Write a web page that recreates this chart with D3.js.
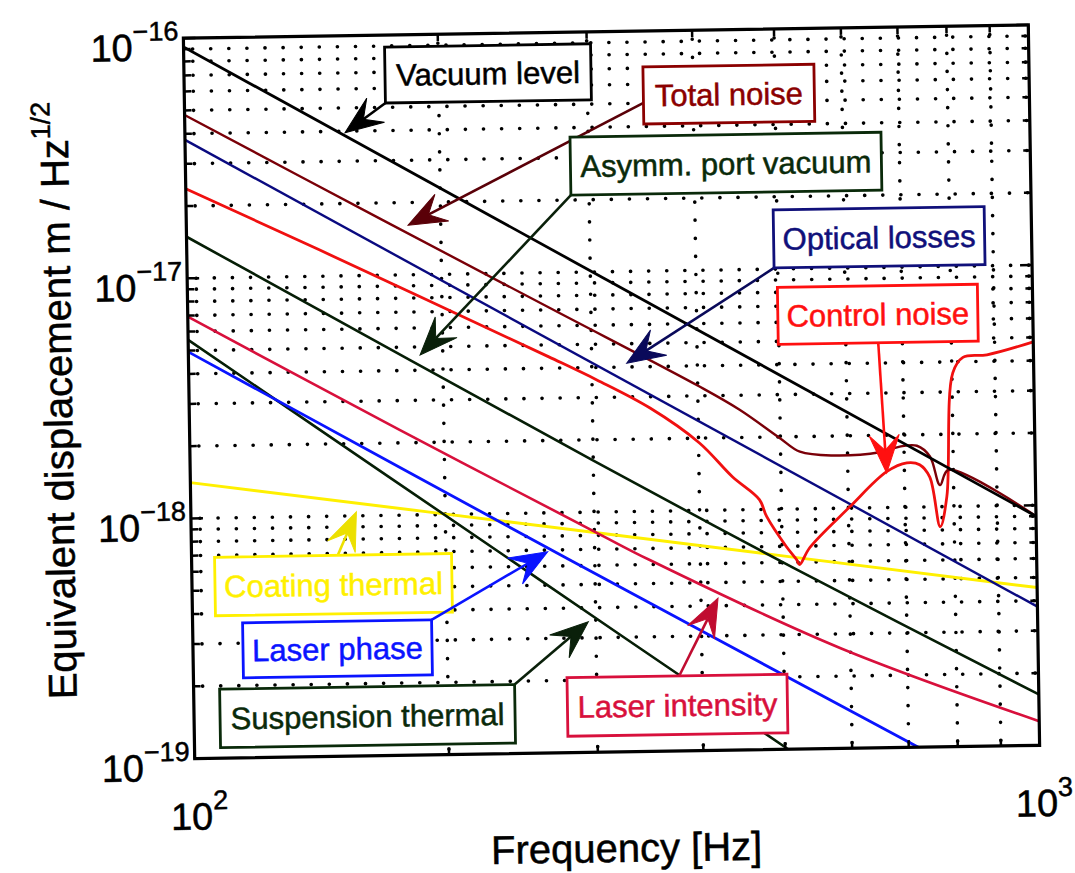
<!DOCTYPE html>
<html>
<head>
<meta charset="utf-8">
<script src="https://cdn.jsdelivr.net/npm/d3@7"></script>
<style>
  body { margin: 0; background: #fff; }
  svg { display: block; }
  text { font-family: "Liberation Sans", Arial, Helvetica, sans-serif; }
</style>
</head>
<body>
<svg id="chart" width="1075" height="873"></svg>
<script>
// Noise spectra: [frequency in Hz, amplitude in m/sqrt(Hz)]
const vacuumLevel = [[100, 9.2e-17], [1000, 9.0e-19]];
const totalNoise = [
  [100, 4.79e-17], [170.6, 1.70e-17], [268, 7.14e-18], [402, 3.28e-18],
  [448, 2.61e-18], [499, 1.98e-18], [527, 1.73e-18], [577, 1.66e-18],
  [655, 1.70e-18], [692, 1.79e-18], [725, 1.80e-18], [751, 1.62e-18],
  [771, 1.23e-18], [789, 1.42e-18], [1000, 9.0e-19]
];
const opticalLosses = [[100, 3.77e-17], [1000, 3.78e-19]];
const controlNoise = [
  [100, 2.36e-17], [143.5, 1.288e-17], [267, 4.46e-18], [304, 3.55e-18],
  [351, 2.69e-18], [401, 1.91e-18], [438, 1.375e-18], [471, 1.10e-18],
  [480, 9.35e-19], [506, 6.97e-19], [520, 6.14e-19], [524, 5.86e-19],
  [539, 6.88e-19], [602, 1.01e-18], [667, 1.41e-18], [705, 1.53e-18],
  [730, 1.50e-18], [750, 1.33e-18], [770, 8.25e-19], [785, 1.10e-18],
  [802, 3.60e-18], [825, 4.17e-18], [881, 4.26e-18], [1000, 4.79e-18]
];
const asymmPortVacuum = [[100, 1.49e-17], [299, 1.65e-18], [520, 5.59e-19], [1000, 1.63e-19]];
const laserIntensity = [
  [100, 6.92e-18], [177, 2.27e-18], [302, 8.20e-19], [348, 6.28e-19],
  [583, 2.62e-19], [1000, 1.26e-19]
];
const suspensionThermal = [[100, 5.54e-18], [258, 5.27e-19], [502, 1.01e-19], [520, 9.3e-20]];
const laserPhase = [[100, 4.94e-18], [280, 6.36e-19], [715, 1.01e-19], [730, 9.7e-20]];
const coatingThermal = [[100, 1.41e-18], [302, 8.2e-19], [1000, 4.54e-19]];

// Axis ticks
const xMajorTicks = [100, 1000];
const xTickExponents = ["2", "3"];
const yMajorTicks = [1e-19, 1e-18, 1e-17, 1e-16];
const yTickExponents = ["\u221219", "\u221218", "\u221217", "\u221216"];

// Annotation labels and the spectrum point each arrow points at
const labelTexts = ["Vacuum level", "Total noise", "Asymm. port vacuum", "Optical losses",
  "Control noise", "Coating thermal", "Laser phase", "Suspension thermal", "Laser intensity"];
const labelTips = [[154.7, 3.94e-17], [183, 1.61e-17], [188, 4.63e-18], [330, 4.15e-18],
  [667, 1.39e-18], [157, 1.04e-18], [264, 6.89e-19], [294, 3.50e-19], [419, 4.30e-19]];

// Drawing layout
const W = 1075, H = 873;
const plot = { left: 189, right: 1034, top: 31.5, bottom: 752 };
const tilt = -0.9;  // page tilt, degrees

const series = [
  { data: coatingThermal, color: "#fff000", width: 3 },
  { data: suspensionThermal, color: "#061e06", width: 2.6 },
  { data: laserPhase, color: "#0a14ff", width: 2.8 },
  { data: laserIntensity, color: "#d8103c", width: 2.6 },
  { data: asymmPortVacuum, color: "#061e06", width: 2.6 },
  { data: opticalLosses, color: "#0a0a80", width: 2.4 },
  { data: controlNoise, color: "#f01010", width: 2.8 },
  { data: totalNoise, color: "#7a0008", width: 2.4 },
  { data: vacuumLevel, color: "#000000", width: 2.8 }
];

const labelStyle = [
  { text: "#000000", arrow: "#000000", box: [390, 43.5, 206, 56], from: [0, 1] },
  { text: "#8b0000", arrow: "#5a0008", box: [648, 67.5, 171, 57], from: [0, 0.63] },
  { text: "#0a2a0a", arrow: "#0a200a", box: [574, 136.5, 311, 58], from: [0, 1] },
  { text: "#10107a", arrow: "#0a0a5a", box: [776, 212.5, 211, 58], from: [0, 1] },
  { text: "#ff1010", arrow: "#ff1010", box: [779, 290, 200, 57], from: [0.5, 1] },
  { text: "#fff000", arrow: "#ece000", box: [212, 551, 237, 58.5], from: [0.52, 0] },
  { text: "#0a14ff", arrow: "#0a14ff", box: [239, 617, 189, 55], from: [1, 0] },
  { text: "#0a2a0a", arrow: "#0a200a", box: [215, 683, 295, 58.5], from: [1, 0] },
  { text: "#d8103c", arrow: "#c00c30", box: [562.5, 677, 220, 58.5], from: [0.51, 0] }
];

const x = d3.scaleLog().domain([100, 1000]).range([plot.left, plot.right]);
const y = d3.scaleLog().domain([1e-19, 1e-16]).range([plot.bottom, plot.top]);

const svg = d3.select("#chart");
svg.append("rect").attr("width", W).attr("height", H).attr("fill", "#fff");

const page = svg.append("g")
  .attr("transform", `rotate(${tilt},612,392)`);

page.append("defs").append("clipPath").attr("id", "plotClip")
  .append("rect")
  .attr("x", plot.left).attr("y", plot.top)
  .attr("width", plot.right - plot.left).attr("height", plot.bottom - plot.top);

// Dotted log grid
const xGrid = d3.range(1, 11).map(k => k * 100);
const yGrid = [];
[-19, -18, -17].forEach(e => { for (let k = 1; k <= 9; k++) yGrid.push(k * Math.pow(10, e)); });
yGrid.push(1e-16);

const grid = page.append("g").attr("stroke", "#000").attr("stroke-width", 3.6)
  .attr("stroke-dasharray", "0.1,18").attr("stroke-linecap", "round");
grid.selectAll("line.gx").data(xGrid.slice(1, -1)).join("line")
  .attr("x1", d => x(d)).attr("x2", d => x(d))
  .attr("y1", plot.top + 9).attr("y2", plot.bottom);
grid.selectAll("line.gy").data(yGrid.slice(1, -1)).join("line")
  .attr("x1", plot.left + 9).attr("x2", plot.right)
  .attr("y1", d => y(d)).attr("y2", d => y(d));

// Spectra
const line = d3.line().x(d => x(d[0])).y(d => y(d[1])).curve(d3.curveCatmullRom.alpha(0.5));
const curves = page.append("g").attr("clip-path", "url(#plotClip)");
series.forEach(s => {
  curves.append("path").datum(s.data)
    .attr("d", line).attr("fill", "none")
    .attr("stroke", s.color).attr("stroke-width", s.width)
    .attr("stroke-linejoin", "round");
});

// Frame and inward ticks
const axes = page.append("g").attr("stroke", "#000").attr("fill", "none");
axes.append("rect")
  .attr("x", plot.left).attr("y", plot.top)
  .attr("width", plot.right - plot.left).attr("height", plot.bottom - plot.top)
  .attr("stroke-width", 3.2);

xGrid.forEach(v => {
  const len = xMajorTicks.includes(v) ? 12 : 7;
  axes.append("line").attr("x1", x(v)).attr("x2", x(v))
    .attr("y1", plot.bottom).attr("y2", plot.bottom - len).attr("stroke-width", 2.5);
  axes.append("line").attr("x1", x(v)).attr("x2", x(v))
    .attr("y1", plot.top).attr("y2", plot.top + len).attr("stroke-width", 2.5);
});
yGrid.forEach(v => {
  const len = yMajorTicks.some(m => Math.abs(m - v) / m < 1e-9) ? 12 : 7;
  axes.append("line").attr("y1", y(v)).attr("y2", y(v))
    .attr("x1", plot.left).attr("x2", plot.left + len).attr("stroke-width", 2.5);
  axes.append("line").attr("y1", y(v)).attr("y2", y(v))
    .attr("x1", plot.right).attr("x2", plot.right - len).attr("stroke-width", 2.5);
});

// Tick labels
const tickFont = 38, expFont = 27;
xMajorTicks.forEach((v, i) => {
  const t = page.append("text").attr("x", x(v) + 4).attr("y", plot.bottom + 71)
    .attr("text-anchor", "middle").attr("font-size", tickFont).attr("fill", "#000")
    .attr("stroke", "#000").attr("stroke-width", 0.5);
  t.append("tspan").text("10");
  t.append("tspan").attr("dy", -20).attr("font-size", expFont).text(xTickExponents[i]);
});
yMajorTicks.forEach((v, i) => {
  const t = page.append("text").attr("x", plot.left - 5).attr("y", y(v) + 22)
    .attr("text-anchor", "end").attr("font-size", tickFont).attr("fill", "#000")
    .attr("stroke", "#000").attr("stroke-width", 0.5);
  t.append("tspan").text("10");
  t.append("tspan").attr("dy", -20).attr("font-size", expFont).text(yTickExponents[i]);
});

// Axis titles
page.append("text")
  .attr("x", (plot.left + plot.right) / 2 + 8).attr("y", 862)
  .attr("text-anchor", "middle").attr("font-size", 40).attr("fill", "#000")
  .attr("stroke", "#000").attr("stroke-width", 0.5)
  .text("Frequency [Hz]");

const yt = page.append("text")
  .attr("transform", `translate(72,${(plot.top + plot.bottom) / 2}) rotate(-90)`)
  .attr("text-anchor", "middle").attr("font-size", 40).attr("fill", "#000")
  .attr("stroke", "#000").attr("stroke-width", 0.5);
yt.append("tspan").text("Equivalent displacement m / Hz");
yt.append("tspan").attr("dy", -18).attr("font-size", 27).text("1/2");

// Annotation boxes with arrows
const ann = page.append("g");
labelTexts.forEach((txt, i) => {
  const st = labelStyle[i];
  const [bx, by, bw, bh] = st.box;
  const sx = bx + st.from[0] * bw, sy = by + st.from[1] * bh;
  const tx = x(labelTips[i][0]), ty = y(labelTips[i][1]);
  const ang = Math.atan2(ty - sy, tx - sx);
  const L = 38, Wd = 15, notch = 0.6;
  const cos = Math.cos(ang), sin = Math.sin(ang);
  const pt = (a, b) => [tx + a * cos - b * sin, ty + a * sin + b * cos];

  ann.append("line")
    .attr("x1", sx).attr("y1", sy)
    .attr("x2", pt(-L * notch, 0)[0]).attr("y2", pt(-L * notch, 0)[1])
    .attr("stroke", st.arrow).attr("stroke-width", 2.6);
  ann.append("path")
    .attr("d", "M" + [pt(0, 0), pt(-L, -Wd), pt(-L * notch, 0), pt(-L, Wd)].map(p => p.join(",")).join("L") + "Z")
    .attr("fill", st.arrow).attr("stroke", st.arrow).attr("stroke-width", 1);

  ann.append("rect").attr("x", bx).attr("y", by).attr("width", bw).attr("height", bh)
    .attr("fill", "#fff").attr("stroke", st.text).attr("stroke-width", 2.8);
  ann.append("text").attr("x", bx + bw / 2).attr("y", by + bh / 2 + 11)
    .attr("text-anchor", "middle").attr("font-size", 31).attr("fill", st.text)
    .attr("stroke", st.text).attr("stroke-width", 0.5)
    .text(txt);
});
</script>
</body>
</html>
